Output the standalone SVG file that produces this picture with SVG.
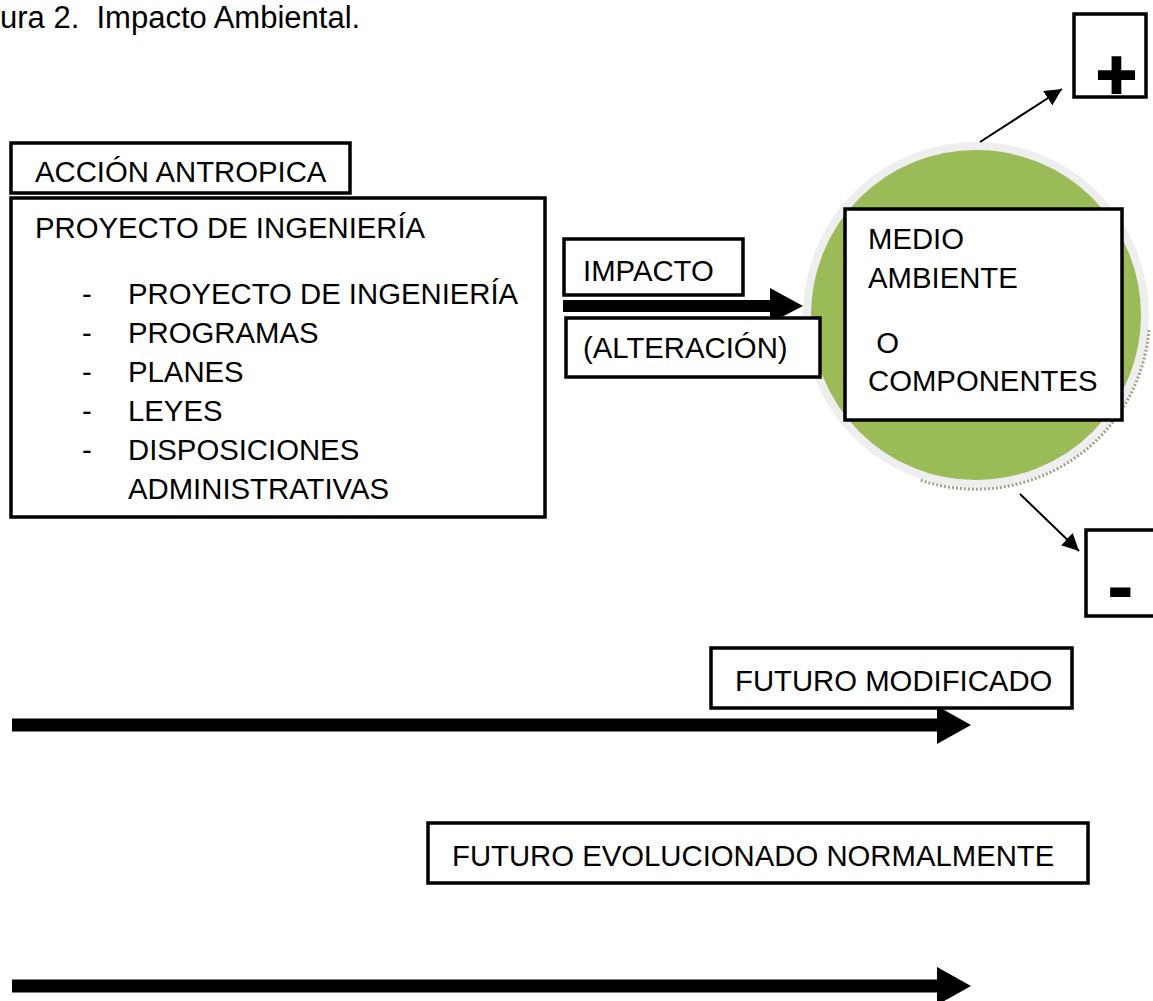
<svg xmlns="http://www.w3.org/2000/svg" width="1153" height="1001" viewBox="0 0 1153 1001">
<style>
text{font-family:"Liberation Sans",Arial,sans-serif;font-size:29.3px;fill:#000}
.box{fill:#fff;stroke:#000;stroke-width:3.5}
.thin{stroke:#000;stroke-width:2;fill:none}
</style>
<defs>
<marker id="ah2" viewBox="0 0 10 10" refX="10" refY="5" markerWidth="17" markerHeight="17" markerUnits="userSpaceOnUse" orient="auto">
<path d="M0,0 L10,5 L0,10 z" fill="#000"/>
</marker>
</defs>
<rect width="1153" height="1001" fill="#fff"/>
<text id="title" x="0" y="28" style="font-size:31px" xml:space="preserve">ura 2.  Impacto Ambiental.</text>

<g id="medio-ambiente-circle">
<circle cx="976" cy="315" r="169" fill="#9bbb59" stroke="#eeeeee" stroke-width="8"/>
<path d="M1149,330 A174,174 0 0 1 920,480" fill="none" stroke="#9aa585" stroke-width="3" stroke-dasharray="2 2"/>
</g>

<g id="connectors">
<path d="M563,306 H772" stroke="#000" stroke-width="12" fill="none"/>
<path d="M770,288 L803,306 L770,323 z" fill="#000"/>
<line x1="980" y1="142" x2="1062" y2="89" class="thin" marker-end="url(#ah2)"/>
<line x1="1020" y1="494" x2="1079" y2="551" class="thin" marker-end="url(#ah2)"/>
<path d="M12,725 H940" stroke="#000" stroke-width="13" fill="none"/>
<path d="M937,706 L971,725 L937,744 z" fill="#000"/>
<path d="M12,986 H940" stroke="#000" stroke-width="13" fill="none"/>
<path d="M937,967 L971,986 L937,1005 z" fill="#000"/>
</g>

<g id="accion-antropica">
<rect class="box" x="11" y="143" width="339" height="50"/>
<text x="35" y="182">ACCIÓN ANTROPICA</text>
</g>

<g id="proyecto">
<rect class="box" x="11" y="198" width="534" height="319"/>
<text x="35" y="238">PROYECTO DE INGENIERÍA</text>
<text x="82" y="304">-</text><text x="128" y="304">PROYECTO DE INGENIERÍA</text>
<text x="82" y="343">-</text><text x="128" y="343">PROGRAMAS</text>
<text x="82" y="382">-</text><text x="128" y="382">PLANES</text>
<text x="82" y="421">-</text><text x="128" y="421">LEYES</text>
<text x="82" y="460">-</text><text x="128" y="460">DISPOSICIONES</text>
<text x="128" y="499">ADMINISTRATIVAS</text>
</g>

<g id="impacto">
<rect class="box" x="564" y="239" width="179" height="56"/>
<text x="583" y="281">IMPACTO</text>
</g>

<g id="alteracion">
<rect class="box" x="566" y="318" width="254" height="59"/>
<text x="583" y="358">(ALTERACIÓN)</text>
</g>

<g id="medio-ambiente">
<rect class="box" x="845" y="209" width="277" height="211"/>
<text x="868" y="249">MEDIO</text>
<text x="868" y="288">AMBIENTE</text>
<text x="868" y="353" xml:space="preserve"> O</text>
<text x="868" y="391">COMPONENTES</text>
</g>

<g id="positivo">
<rect class="box" x="1074" y="14" width="72" height="83"/>
<text x="1096" y="99" style="font-size:70px;font-weight:bold;stroke:#000;stroke-width:2">+</text>
</g>

<g id="negativo">
<rect class="box" x="1086" y="530" width="72" height="86"/>
<text x="1107" y="613" style="font-size:80px;font-weight:bold">-</text>
</g>

<g id="futuro-modificado">
<rect class="box" x="711" y="648" width="361" height="60"/>
<text x="735" y="691">FUTURO MODIFICADO</text>
</g>

<g id="futuro-normal">
<rect class="box" x="428" y="823" width="660" height="60"/>
<text x="452" y="866">FUTURO EVOLUCIONADO NORMALMENTE</text>
</g>
</svg>
